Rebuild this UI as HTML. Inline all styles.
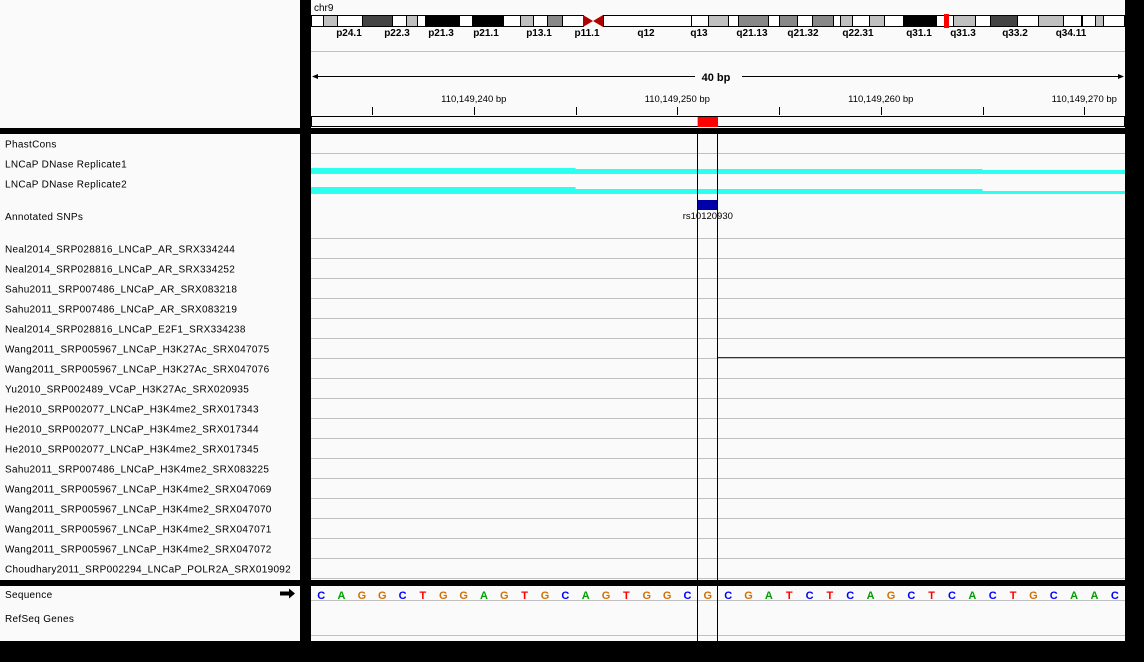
<!DOCTYPE html>
<html><head><meta charset="utf-8">
<style>
body{margin:0;background:#000;width:1144px;height:657px;overflow:hidden;font-family:"Liberation Sans",sans-serif}
svg text{font-family:"Liberation Sans",sans-serif}
</style></head>
<body>
<svg id="igv" width="1144" height="657" xmlns="http://www.w3.org/2000/svg">
<rect x="0" y="0" width="1144" height="657" fill="#000"/>
<rect x="0" y="0" width="300" height="128" fill="#fafafa"/>
<rect x="311" y="0" width="814" height="128" fill="#fafafa"/>
<rect x="0" y="134" width="300" height="446" fill="#fafafa"/>
<rect x="311" y="134" width="814" height="446" fill="#fafafa"/>
<rect x="0" y="586" width="300" height="55" fill="#fafafa"/>
<rect x="311" y="586" width="814" height="55" fill="#fafafa"/>
<text x="314" y="11" font-size="10">chr9</text>
<line x1="311" y1="51.5" x2="1125" y2="51.5" stroke="#c0c0c0"/>
<g id="ideo"></g>
<g id="ruler"></g>
<g id="tracks"></g>
<g id="seq"></g>
</svg>
<script>
const NS='http://www.w3.org/2000/svg';
const bandStarts=[311,323,337,362,392,406,417,425,459,472,503,520,533,547,562,583,603,691,708,728,738,768,779,797,812,833,840,852,869,884,903,936,953,975,990,1017,1038,1063,1081,1082,1095,1103];
const bandShades=['w','g','w','d','w','g','w','b','w','b','w','g','w','m','w','c','w','w','g','w','m','w','m','w','m','w','g','w','g','w','b','w','g','w','d','w','g','w','g','w','g','w'];
const bandLabels=['p24.1','p22.3','p21.3','p21.1','p13.1','p11.1','q12','q13','q21.13','q21.32','q22.31','q31.1','q31.3','q33.2','q34.11'];
const bandLabelX=[349,397,441,486,539,587,646,699,752,803,858,919,963,1015,1071];
const bases='CAGGCTGGAGTGCAGTGGCGCGATCTCAGCTCACTGCAAC'.split('');
const startPos=110149232;
const tickPositions=[110149240,110149250,110149260,110149270];
const tickLabels=['110,149,240 bp','110,149,250 bp','110,149,260 bp','110,149,270 bp'];
const trackNames=['PhastCons','LNCaP DNase Replicate1','LNCaP DNase Replicate2','Annotated SNPs','Neal2014_SRP028816_LNCaP_AR_SRX334244','Neal2014_SRP028816_LNCaP_AR_SRX334252','Sahu2011_SRP007486_LNCaP_AR_SRX083218','Sahu2011_SRP007486_LNCaP_AR_SRX083219','Neal2014_SRP028816_LNCaP_E2F1_SRX334238','Wang2011_SRP005967_LNCaP_H3K27Ac_SRX047075','Wang2011_SRP005967_LNCaP_H3K27Ac_SRX047076','Yu2010_SRP002489_VCaP_H3K27Ac_SRX020935','He2010_SRP002077_LNCaP_H3K4me2_SRX017343','He2010_SRP002077_LNCaP_H3K4me2_SRX017344','He2010_SRP002077_LNCaP_H3K4me2_SRX017345','Sahu2011_SRP007486_LNCaP_H3K4me2_SRX083225','Wang2011_SRP005967_LNCaP_H3K4me2_SRX047069','Wang2011_SRP005967_LNCaP_H3K4me2_SRX047070','Wang2011_SRP005967_LNCaP_H3K4me2_SRX047071','Wang2011_SRP005967_LNCaP_H3K4me2_SRX047072','Choudhary2011_SRP002294_LNCaP_POLR2A_SRX019092'];
const trackHeights=[20,20,20,45,20,20,20,20,20,20,20,20,20,20,20,20,20,20,20,20,20];
const segStarts=[110149232,110149245,110149265];
const segEnds=[110149245,110149265,110149272];
const rep1Values=[5,4,3];
const rep2Values=[6,4,2];
const h3k27Start=110149252, h3k27End=110149272, h3k27Value=1;
const snpPos=110149251, snpName='rs10120930';
const shadeColor={w:'#fff',g:'#c0c0c0',m:'#888',d:'#444',b:'#000'};
const baseColor={A:'#00a000',C:'#0000ff',G:'#d17105',T:'#ff0000'};
const X0=311,W=814,bpW=W/40;
const xs=p=>X0+(p-startPos)*bpW;
function el(t,a,p){const e=document.createElementNS(NS,t);for(const k in a)e.setAttribute(k,a[k]);p.appendChild(e);return e;}
const ideo=document.getElementById('ideo');
bandStarts.forEach((s,i)=>{const e=(i+1<bandStarts.length?bandStarts[i+1]:1124);
 if(bandShades[i]==='c')return;
 const r=el('rect',{x:s+0.5,y:15.5,width:e-s,height:11,fill:shadeColor[bandShades[i]],stroke:'#000','stroke-width':1},ideo);
 
 });
const cen=el('path',{d:'M583 15 L593 21 L583 27 Z M603 15 L593 21 L603 27 Z',fill:'#b00000'},ideo);


const cur=el('rect',{x:944,y:14,width:5,height:14,fill:'#ff0000'},ideo);


bandLabels.forEach((l,i)=>{const t=el('text',{x:bandLabelX[i],y:36,'font-size':10,'font-weight':'bold','text-anchor':'middle'},ideo);t.textContent=l;
 
 });
const ru=document.getElementById('ruler');
el('line',{x1:313,y1:76.5,x2:695,y2:76.5,stroke:'#000'},ru);
el('line',{x1:742,y1:76.5,x2:1123,y2:76.5,stroke:'#000'},ru);
el('path',{d:'M312 76.5 L318 74 L318 79 Z M1124 76.5 L1118 74 L1118 79 Z',fill:'#000'},ru);
const sp=el('text',{x:716,y:81,'font-size':11,'font-weight':'bold','text-anchor':'middle'},ru);sp.textContent='40 bp';


for(let p=startPos+3;p<=startPos+40;p+=5){const x=Math.round(xs(p))+0.5;el('line',{x1:x,y1:107,x2:x,y2:115,stroke:'#000'},ru);}
tickPositions.forEach((p,i)=>{const t=el('text',{x:xs(p),y:102,'font-size':9.5,'text-anchor':'middle'},ru);t.textContent=tickLabels[i];
 
 });
el('rect',{x:311.5,y:116.5,width:813,height:10,fill:'none',stroke:'#000'},ru);
const rb=el('rect',{x:xs(snpPos),y:117,width:bpW,height:10,fill:'#ff0000'},ru);


const tr=document.getElementById('tracks');
let y=134;
trackNames.forEach((n,i)=>{const h=trackHeights[i];
 const t=el('text',{x:5,y:y+h/2+3.5,'font-size':10,'letter-spacing':'0.3'},tr);t.textContent=n;
 
 
 const bot=y+h-0.5;
 el('line',{x1:311,y1:bot,x2:1125,y2:bot,stroke:'#c0c0c0'},tr);
 if(i===1||i===2){const vals=i===1?rep1Values:rep2Values;
  segStarts.forEach((s,j)=>{const r=el('rect',{x:xs(s),y:bot-0.5-vals[j],width:xs(segEnds[j])-xs(s),height:vals[j],fill:'#2afff0'},tr);
   
   });}
 if(i===3){const r=el('rect',{x:xs(snpPos),y:y+6,width:bpW,height:10,fill:'#0000a8'},tr);
  
  
  const s=el('text',{x:xs(snpPos)+bpW/2,y:y+25,'font-size':9.5,'text-anchor':'middle'},tr);s.textContent=snpName;
  
  }
 if(i===9){const l=el('rect',{x:Math.round(xs(h3k27Start)),y:bot-0.5-h3k27Value,width:xs(h3k27End)-Math.round(xs(h3k27Start)),height:h3k27Value,fill:'#5a145a'},tr);
  
  }
 y+=h;});
const sq=document.getElementById('seq');
const s1=el('text',{x:5,y:598,'font-size':10,'letter-spacing':'0.3'},sq);s1.textContent='Sequence';
const s2=el('text',{x:5,y:622,'font-size':10,'letter-spacing':'0.3'},sq);s2.textContent='RefSeq Genes';
el('path',{d:'M280 591.5 H289 V588.5 L295 593.5 L289 598.5 V595.5 H280 Z',fill:'#000'},sq);
el('line',{x1:311,y1:600.5,x2:1125,y2:600.5,stroke:'#c0c0c0'},sq);
el('line',{x1:311,y1:635.5,x2:1125,y2:635.5,stroke:'#c0c0c0'},sq);
bases.forEach((b,i)=>{const t=el('text',{x:xs(startPos+i)+bpW/2,y:599,'font-size':11,'font-weight':'bold','text-anchor':'middle',fill:baseColor[b]},sq);t.textContent=b;
 
 });
const svg=document.getElementById('igv');
[xs(snpPos),xs(snpPos+1)].forEach(x=>{const l=el('line',{x1:Math.round(x)-0.5,y1:134,x2:Math.round(x)-0.5,y2:641,stroke:'#000'},svg);
 
 });
</script>
</body></html>
